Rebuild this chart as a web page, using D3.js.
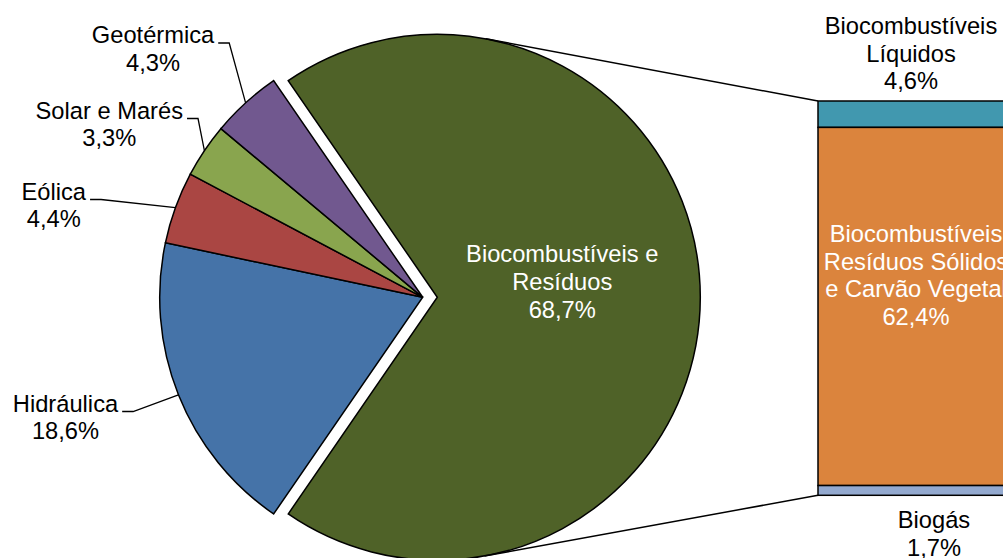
<!DOCTYPE html>
<html><head><meta charset="utf-8">
<script src="https://cdn.jsdelivr.net/npm/d3@7"></script>
<style>html,body{margin:0;padding:0;background:#fff;overflow:hidden}</style>
</head><body>
<svg id="c" width="1003" height="558"></svg>
<script>
// ---- data ----
const pieLabels = ["Biocombustíveis e Resíduos", "Hidráulica", "Eólica", "Solar e Marés", "Geotérmica"];
const pieValues = [68.7, 18.6, 4.4, 3.3, 4.3];
const pieValueText = ["68,7%", "18,6%", "4,4%", "3,3%", "4,3%"];
const barLabels = ["Biocombustíveis Líquidos", "Biocombustíveis Resíduos Sólidos e Carvão Vegetal", "Biogás"];
const barValues = [4.6, 62.4, 1.7];
const barValueText = ["4,6%", "62,4%", "1,7%"];

// ---- style / layout ----
const pieColors = ["#4F6228", "#4573A8", "#AA4643", "#89A54E", "#71588F"];
const barColors = ["#4198AF", "#DB843D", "#93A9CF"];
const FONT = "'Liberation Sans', Arial, sans-serif";
const FS = 23.7, LH = 27.7;
const cx = 422.7, cy = 297.3, R = 263, explode = 14.6;
const barX0 = 818, barX1 = 1054, barTop = 101, barBottom = 495.3;

const svg = d3.select("#c");
const total = d3.sum(pieValues);
const bigAngle = 2 * Math.PI * pieValues[0] / total;
const start = Math.PI / 2 - bigAngle / 2;
const pie = d3.pie().sort(null).startAngle(start).endAngle(start + 2 * Math.PI);
const arcs = pie(pieValues);
const arc = d3.arc().innerRadius(0).outerRadius(R);

const g = svg.append("g").attr("transform", `translate(${cx},${cy})`);
arcs.forEach((a, i) => {
  const mid = (a.startAngle + a.endAngle) / 2;
  const off = i === 0 ? explode : 0;
  g.append("path")
    .attr("d", arc(a))
    .attr("transform", `translate(${off * Math.sin(mid)},${-off * Math.cos(mid)})`)
    .attr("fill", pieColors[i])
    .attr("stroke", "#000").attr("stroke-width", 1.5).attr("stroke-linejoin", "miter");
});

// bar of pie
const yBar = d3.scaleLinear().domain([0, d3.sum(barValues)]).range([barTop, barBottom]);
let acc = 0;
const segs = barValues.map((v, i) => { const s = { i, y0: yBar(acc), y1: yBar(acc + v) }; acc += v; return s; });
segs.forEach(s => {
  svg.append("rect").attr("x", barX0).attr("y", s.y0).attr("width", barX1 - barX0).attr("height", s.y1 - s.y0)
    .attr("fill", barColors[s.i]).attr("stroke", "#000").attr("stroke-width", 1.5);
});

// connector lines tangent to exploded slice
const ecx = cx + explode * Math.sin((arcs[0].startAngle + arcs[0].endAngle) / 2);
const ecy = cy - explode * Math.cos((arcs[0].startAngle + arcs[0].endAngle) / 2);
function tangent(px, py, upper) {
  const dx = px - ecx, dy = py - ecy, d = Math.hypot(dx, dy);
  const base = Math.atan2(dy, dx), t = Math.acos(R / d);
  const ang = upper ? base - t : base + t;
  return [ecx + R * Math.cos(ang), ecy + R * Math.sin(ang)];
}
[[barX0, barTop, true], [barX0, barBottom, false]].forEach(([px, py, up]) => {
  const t = tangent(px, py, up);
  svg.append("line").attr("x1", t[0]).attr("y1", t[1]).attr("x2", px).attr("y2", py)
    .attr("stroke", "#000").attr("stroke-width", 1.5);
});

function multiText(x, y, lines, color) {
  const t = svg.append("text").attr("font-family", FONT).attr("font-size", FS)
    .attr("fill", color).attr("text-anchor", "middle");
  lines.forEach((l, k) => t.append("tspan").attr("x", x).attr("y", y + k * LH).text(l));
  return t;
}

// big slice label
{
  const a = arcs[0], mid = (a.startAngle + a.endAngle) / 2;
  const rr = R * 0.475;
  multiText(ecx + rr * Math.sin(mid), ecy - rr * Math.cos(mid) - 35, ["Biocombustíveis e", "Resíduos", pieValueText[0]], "#fff");
}

// outside labels with leader lines
const outsidePos = { 1: [65.5, 411.5], 2: [53.8, 199.5], 3: [109.3, 118.5], 4: [153, 43] };
[1, 2, 3, 4].forEach(i => {
  const [lx, ly] = outsidePos[i];
  const t = multiText(lx, ly, [pieLabels[i], pieValueText[i]], "#000");
  const w = t.select("tspan").node().getComputedTextLength();
  const a = arcs[i], mid = (a.startAngle + a.endAngle) / 2;
  const ax = cx + R * Math.sin(mid), ay = cy - R * Math.cos(mid);
  const sx = lx + w / 2 + 4, hy = ly;
  svg.append("polyline").attr("points", `${sx},${hy} ${sx + 11},${hy} ${ax},${ay}`)
    .attr("fill", "none").attr("stroke", "#000").attr("stroke-width", 1.3);
});

// bar labels
multiText(911, 34, ["Biocombustíveis", "Líquidos", barValueText[0]], "#000");
multiText(916, 242, ["Biocombustíveis", "Resíduos Sólidos", "e Carvão Vegetal", barValueText[1]], "#fff");
multiText(934, 528, ["Biogás", barValueText[2]], "#000");
</script>
</body></html>
